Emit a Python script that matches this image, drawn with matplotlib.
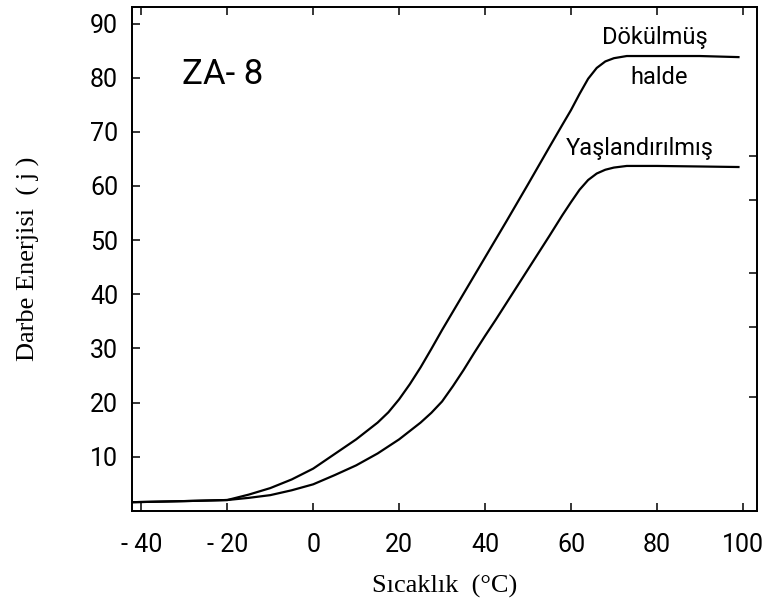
import matplotlib.pyplot as plt

# Temperature (°C) and impact energy (J)
temp_cast = [-42, -30, -20, -15, -10, -5, 0, 5, 10, 15, 17.5, 20, 22.5, 25,
             27.5, 30, 35, 40, 45, 50, 55, 58, 60, 62, 64, 66, 68, 70, 73,
             80, 90, 99]
energy_cast = [1.6, 1.8, 2.0, 3.0, 4.2, 5.8, 7.8, 10.5, 13.2, 16.3, 18.2, 20.6,
               23.4, 26.5, 29.9, 33.4, 40.1, 46.8, 53.5, 60.3, 67.2, 71.3, 74.0,
               77.0, 79.8, 81.8, 83.0, 83.6, 84.0, 84.0, 84.0, 83.8]

temp_aged = [-42, -30, -20, -15, -10, -5, 0, 5, 10, 15, 20, 25, 27.5, 30,
             32.5, 35, 37.5, 40, 42.5, 45, 50, 55, 58, 60, 62, 64, 66, 68, 70,
             73, 80, 90, 99]
energy_aged = [1.6, 1.8, 2.0, 2.4, 2.9, 3.8, 4.9, 6.6, 8.4, 10.6, 13.2, 16.3,
               18.1, 20.2, 23.0, 26.0, 29.2, 32.3, 35.3, 38.4, 44.6, 50.8, 54.6,
               57.0, 59.3, 61.1, 62.3, 63.0, 63.4, 63.7, 63.7, 63.6, 63.5]

x_ticks = [-40, -20, 0, 20, 40, 60, 80, 100]
x_labels = ['- 40', '- 20', '0', '20', '40', '60', '80', '100']
y_ticks = [10, 20, 30, 40, 50, 60, 70, 80, 90]
right_ticks = [21, 34, 44, 57.5, 65.5]

fig = plt.figure(figsize=(7.76, 6.14), dpi=100)
ax = fig.add_axes([0.170, 0.168, 0.806, 0.821])

ax.plot(temp_cast, energy_cast, color='black', lw=1.6, solid_joinstyle='round')
ax.plot(temp_aged, energy_aged, color='black', lw=1.6, solid_joinstyle='round')

ax.set_xlim(-42.2, 103.4)
ax.set_ylim(0, 93.1)

label_font = dict(family=['Roboto', 'DejaVu Sans'], fontsize=18)
ax.set_xticks(x_ticks)
ax.set_xticklabels(x_labels, **label_font)
ax.set_yticks(y_ticks)
ax.set_yticklabels([str(v) for v in y_ticks], **label_font)
ax.tick_params(axis='both', direction='in', length=6, width=1.1,
               top=True, right=False, colors='black')
ax.tick_params(axis='x', pad=16)
ax.tick_params(axis='y', pad=10)

# separate set of ticks on the right edge
ax2 = ax.twinx()
ax2.set_ylim(ax.get_ylim())
ax2.set_yticks(right_ticks)
ax2.tick_params(axis='y', direction='in', length=6, width=1.1, labelright=False)

for a in (ax, ax2):
    for s in a.spines.values():
        s.set_linewidth(1.3)

ax.set_xlabel('Sıcaklık  (°C)', family='Liberation Serif', fontsize=19, labelpad=13)
ax.set_ylabel('Darbe Enerjisi  ( j )', family='Liberation Serif', fontsize=19, labelpad=36)

text_font = dict(family=['Roboto', 'DejaVu Sans'], color='black')
ax.text(-30.5, 80.5, 'ZA- 8', fontsize=25, va='center', ha='left', **text_font)
ax.text(79.5, 87.5, 'Dökülmüş', fontsize=17, ha='center', va='center', **text_font)
ax.text(80.5, 80.0, 'halde', fontsize=17, ha='center', va='center', **text_font)
ax.text(76, 67.0, 'Yaşlandırılmış', fontsize=17, ha='center', va='center', **text_font)

fig.savefig('out.png', dpi=100)
